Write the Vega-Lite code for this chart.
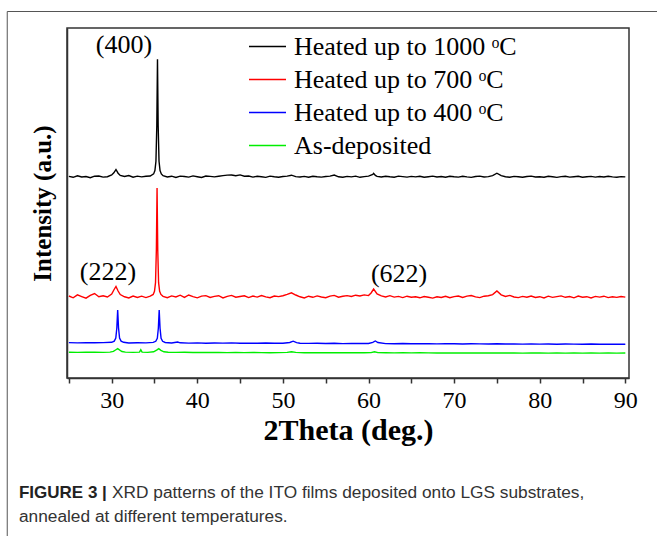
{
"$schema": "https://vega.github.io/schema/vega-lite/v6.json",
"width": 562, "height": 350,
"autosize": {"type": "none"},
"padding": {"left": 67, "top": 28, "right": 28, "bottom": 158},
"background": "white",
"config": {"view": {"stroke": "#333", "strokeWidth": 1.5}, "font": "Liberation Serif"},
"datasets": {
"xrd": [
{"s":"k","t":25,"i":201.6},{"s":"k","t":25.5,"i":200.7},{"s":"k","t":26,"i":202.2},{"s":"k","t":26.5,"i":201},{"s":"k","t":27,"i":201.5},{"s":"k","t":27.5,"i":200.3},{"s":"k","t":28,"i":201.8},{"s":"k","t":28.5,"i":202},{"s":"k","t":29,"i":200.9},{"s":"k","t":29.5,"i":201.3},{"s":"k","t":30,"i":203},{"s":"k","t":30.25,"i":205.2},{"s":"k","t":30.5,"i":208.5},{"s":"k","t":30.75,"i":204.8},{"s":"k","t":31,"i":202.6},{"s":"k","t":31.5,"i":201.5},{"s":"k","t":32,"i":202.4},{"s":"k","t":32.5,"i":200.8},{"s":"k","t":33,"i":201.9},{"s":"k","t":33.5,"i":201.1},{"s":"k","t":34,"i":201.7},{"s":"k","t":34.5,"i":202},{"s":"k","t":34.9,"i":204.1},{"s":"k","t":35.05,"i":207.4},{"s":"k","t":35.17,"i":216.7},{"s":"k","t":35.27,"i":252.3},{"s":"k","t":35.35,"i":318.7},{"s":"k","t":35.43,"i":252.3},{"s":"k","t":35.53,"i":216.7},{"s":"k","t":35.65,"i":207.4},{"s":"k","t":35.8,"i":204.1},{"s":"k","t":36,"i":202.3},{"s":"k","t":36.5,"i":201},{"s":"k","t":37,"i":201.8},{"s":"k","t":37.5,"i":200.6},{"s":"k","t":38,"i":201.9},{"s":"k","t":38.5,"i":201.5},{"s":"k","t":39,"i":200.9},{"s":"k","t":39.5,"i":202.1},{"s":"k","t":40,"i":201.3},{"s":"k","t":40.5,"i":200.5},{"s":"k","t":41,"i":202},{"s":"k","t":41.5,"i":201.6},{"s":"k","t":42,"i":201.1},{"s":"k","t":42.5,"i":201.8},{"s":"k","t":43,"i":202.4},{"s":"k","t":43.5,"i":202.9},{"s":"k","t":44,"i":203},{"s":"k","t":44.5,"i":202.2},{"s":"k","t":45,"i":203.1},{"s":"k","t":45.5,"i":201.8},{"s":"k","t":46,"i":202},{"s":"k","t":46.5,"i":200.9},{"s":"k","t":47,"i":201.7},{"s":"k","t":47.5,"i":201.2},{"s":"k","t":48,"i":200.6},{"s":"k","t":48.5,"i":201.9},{"s":"k","t":49,"i":201.3},{"s":"k","t":49.5,"i":200.8},{"s":"k","t":50,"i":201.5},{"s":"k","t":50.5,"i":201.9},{"s":"k","t":51,"i":202.8},{"s":"k","t":51.5,"i":201.4},{"s":"k","t":52,"i":201},{"s":"k","t":52.5,"i":201.6},{"s":"k","t":53,"i":200.7},{"s":"k","t":53.5,"i":201.8},{"s":"k","t":54,"i":201.2},{"s":"k","t":54.5,"i":200.9},{"s":"k","t":55,"i":201.5},{"s":"k","t":55.5,"i":201.9},{"s":"k","t":56,"i":202.9},{"s":"k","t":56.5,"i":201.2},{"s":"k","t":57,"i":200.8},{"s":"k","t":57.5,"i":201.6},{"s":"k","t":58,"i":201.1},{"s":"k","t":58.5,"i":201.9},{"s":"k","t":59,"i":200.7},{"s":"k","t":59.5,"i":201.4},{"s":"k","t":60,"i":201.9},{"s":"k","t":60.5,"i":203.5},{"s":"k","t":60.6,"i":204.6},{"s":"k","t":60.8,"i":202.6},{"s":"k","t":61,"i":201.6},{"s":"k","t":61.5,"i":201},{"s":"k","t":62,"i":201.7},{"s":"k","t":62.5,"i":201.2},{"s":"k","t":63,"i":200.8},{"s":"k","t":63.5,"i":201.9},{"s":"k","t":64,"i":201.4},{"s":"k","t":64.5,"i":200.9},{"s":"k","t":65,"i":201.6},{"s":"k","t":65.5,"i":201.1},{"s":"k","t":66,"i":201.8},{"s":"k","t":66.5,"i":200.7},{"s":"k","t":67,"i":201.3},{"s":"k","t":67.5,"i":201.9},{"s":"k","t":68,"i":201},{"s":"k","t":68.5,"i":201.5},{"s":"k","t":69,"i":200.8},{"s":"k","t":69.5,"i":201.7},{"s":"k","t":70,"i":201.2},{"s":"k","t":70.5,"i":200.9},{"s":"k","t":71,"i":201.8},{"s":"k","t":71.5,"i":201.1},{"s":"k","t":72,"i":200.6},{"s":"k","t":72.5,"i":201.5},{"s":"k","t":73,"i":201.9},{"s":"k","t":73.5,"i":201},{"s":"k","t":74,"i":201.4},{"s":"k","t":74.5,"i":202.4},{"s":"k","t":75,"i":204.8},{"s":"k","t":75.5,"i":202.3},{"s":"k","t":76,"i":201.3},{"s":"k","t":76.5,"i":200.8},{"s":"k","t":77,"i":201.6},{"s":"k","t":77.5,"i":201.2},{"s":"k","t":78,"i":200.7},{"s":"k","t":78.5,"i":201.5},{"s":"k","t":79,"i":201.9},{"s":"k","t":79.5,"i":201},{"s":"k","t":80,"i":201.3},{"s":"k","t":80.5,"i":200.8},{"s":"k","t":81,"i":201.7},{"s":"k","t":81.5,"i":201.2},{"s":"k","t":82,"i":200.6},{"s":"k","t":82.5,"i":201.4},{"s":"k","t":83,"i":201.8},{"s":"k","t":83.5,"i":200.9},{"s":"k","t":84,"i":201.3},{"s":"k","t":84.5,"i":201.7},{"s":"k","t":85,"i":200.8},{"s":"k","t":85.5,"i":201.2},{"s":"k","t":86,"i":201.6},{"s":"k","t":86.5,"i":200.9},{"s":"k","t":87,"i":201.5},{"s":"k","t":87.5,"i":201},{"s":"k","t":88,"i":201.8},{"s":"k","t":88.5,"i":201.1},{"s":"k","t":89,"i":200.7},{"s":"k","t":89.5,"i":201.4},{"s":"k","t":90,"i":201.1},
{"s":"r","t":25,"i":82},{"s":"r","t":25.5,"i":80.2},{"s":"r","t":26,"i":83.1},{"s":"r","t":26.5,"i":81.4},{"s":"r","t":27,"i":79.8},{"s":"r","t":27.5,"i":82.6},{"s":"r","t":28,"i":84.5},{"s":"r","t":28.5,"i":81.3},{"s":"r","t":29,"i":82.2},{"s":"r","t":29.5,"i":81},{"s":"r","t":30,"i":84},{"s":"r","t":30.25,"i":88},{"s":"r","t":30.5,"i":91.5},{"s":"r","t":30.75,"i":87},{"s":"r","t":31,"i":83.5},{"s":"r","t":31.5,"i":81.2},{"s":"r","t":32,"i":80.1},{"s":"r","t":32.5,"i":82},{"s":"r","t":33,"i":80.6},{"s":"r","t":33.5,"i":81.8},{"s":"r","t":34,"i":80.4},{"s":"r","t":34.5,"i":81.9},{"s":"r","t":34.85,"i":83.6},{"s":"r","t":35,"i":86.7},{"s":"r","t":35.12,"i":95.3},{"s":"r","t":35.22,"i":128.3},{"s":"r","t":35.3,"i":190},{"s":"r","t":35.38,"i":128.3},{"s":"r","t":35.48,"i":95.3},{"s":"r","t":35.6,"i":86.7},{"s":"r","t":35.75,"i":83.6},{"s":"r","t":36,"i":81.7},{"s":"r","t":36.5,"i":80.3},{"s":"r","t":37,"i":82.1},{"s":"r","t":37.5,"i":81},{"s":"r","t":38,"i":82.8},{"s":"r","t":38.5,"i":80.6},{"s":"r","t":39,"i":83},{"s":"r","t":39.5,"i":81.4},{"s":"r","t":40,"i":80.2},{"s":"r","t":40.5,"i":81.9},{"s":"r","t":41,"i":82.4},{"s":"r","t":41.5,"i":80.5},{"s":"r","t":42,"i":81.6},{"s":"r","t":42.5,"i":82.3},{"s":"r","t":43,"i":80.1},{"s":"r","t":43.5,"i":81.7},{"s":"r","t":44,"i":82.6},{"s":"r","t":44.5,"i":80.8},{"s":"r","t":45,"i":81.5},{"s":"r","t":45.5,"i":82.2},{"s":"r","t":46,"i":80.4},{"s":"r","t":46.5,"i":81.9},{"s":"r","t":47,"i":80.9},{"s":"r","t":47.5,"i":82.5},{"s":"r","t":48,"i":81.1},{"s":"r","t":48.5,"i":80.3},{"s":"r","t":49,"i":82},{"s":"r","t":49.5,"i":81.4},{"s":"r","t":50,"i":82.3},{"s":"r","t":50.5,"i":83.6},{"s":"r","t":51,"i":85.2},{"s":"r","t":51.5,"i":83},{"s":"r","t":52,"i":81.2},{"s":"r","t":52.5,"i":80.1},{"s":"r","t":53,"i":81.8},{"s":"r","t":53.5,"i":80.7},{"s":"r","t":54,"i":82.1},{"s":"r","t":54.5,"i":81},{"s":"r","t":55,"i":80.3},{"s":"r","t":55.5,"i":81.9},{"s":"r","t":56,"i":82.6},{"s":"r","t":56.5,"i":80.8},{"s":"r","t":57,"i":81.7},{"s":"r","t":57.5,"i":82.4},{"s":"r","t":58,"i":81.5},{"s":"r","t":58.5,"i":82.8},{"s":"r","t":59,"i":82},{"s":"r","t":59.5,"i":83.1},{"s":"r","t":60,"i":82.4},{"s":"r","t":60.3,"i":85},{"s":"r","t":60.6,"i":89},{"s":"r","t":61,"i":84},{"s":"r","t":61.5,"i":82.1},{"s":"r","t":62,"i":81},{"s":"r","t":62.5,"i":82.3},{"s":"r","t":63,"i":80.9},{"s":"r","t":63.5,"i":81.6},{"s":"r","t":64,"i":80.4},{"s":"r","t":64.5,"i":81.8},{"s":"r","t":65,"i":80.7},{"s":"r","t":65.5,"i":81.3},{"s":"r","t":66,"i":80.2},{"s":"r","t":66.5,"i":81.5},{"s":"r","t":67,"i":80.8},{"s":"r","t":67.5,"i":79.9},{"s":"r","t":68,"i":81.2},{"s":"r","t":68.5,"i":80.5},{"s":"r","t":69,"i":81.7},{"s":"r","t":69.5,"i":80.3},{"s":"r","t":70,"i":81.4},{"s":"r","t":70.5,"i":82},{"s":"r","t":71,"i":80.6},{"s":"r","t":71.5,"i":81.9},{"s":"r","t":72,"i":82.5},{"s":"r","t":72.5,"i":81.1},{"s":"r","t":73,"i":80.4},{"s":"r","t":73.5,"i":81.8},{"s":"r","t":74,"i":82.3},{"s":"r","t":74.5,"i":83.4},{"s":"r","t":75,"i":87},{"s":"r","t":75.5,"i":83.2},{"s":"r","t":76,"i":81.5},{"s":"r","t":76.5,"i":82.6},{"s":"r","t":77,"i":81},{"s":"r","t":77.5,"i":80.4},{"s":"r","t":78,"i":81.6},{"s":"r","t":78.5,"i":80.8},{"s":"r","t":79,"i":82},{"s":"r","t":79.5,"i":80.5},{"s":"r","t":80,"i":81.3},{"s":"r","t":80.5,"i":80.1},{"s":"r","t":81,"i":81.8},{"s":"r","t":81.5,"i":80.6},{"s":"r","t":82,"i":81.4},{"s":"r","t":82.5,"i":82.1},{"s":"r","t":83,"i":80.7},{"s":"r","t":83.5,"i":81.5},{"s":"r","t":84,"i":80.2},{"s":"r","t":84.5,"i":81.9},{"s":"r","t":85,"i":80.8},{"s":"r","t":85.5,"i":81.3},{"s":"r","t":86,"i":80},{"s":"r","t":86.5,"i":81.6},{"s":"r","t":87,"i":80.9},{"s":"r","t":87.5,"i":81.8},{"s":"r","t":88,"i":80.4},{"s":"r","t":88.5,"i":81.2},{"s":"r","t":89,"i":80.6},{"s":"r","t":89.5,"i":81.5},{"s":"r","t":90,"i":80.9},
{"s":"b","t":25,"i":35.4},{"s":"b","t":26,"i":35.1},{"s":"b","t":27,"i":35.3},{"s":"b","t":28,"i":35.2},{"s":"b","t":29,"i":35.4},{"s":"b","t":30,"i":35.7},{"s":"b","t":30.3,"i":36.9},{"s":"b","t":30.48,"i":40},{"s":"b","t":30.6,"i":50},{"s":"b","t":30.7,"i":68},{"s":"b","t":30.8,"i":50},{"s":"b","t":30.92,"i":40},{"s":"b","t":31.1,"i":36.9},{"s":"b","t":31.4,"i":35.7},{"s":"b","t":32,"i":35},{"s":"b","t":33,"i":35.2},{"s":"b","t":34,"i":35.1},{"s":"b","t":34.85,"i":35.6},{"s":"b","t":35.15,"i":36.7},{"s":"b","t":35.33,"i":39.8},{"s":"b","t":35.45,"i":49.8},{"s":"b","t":35.55,"i":68},{"s":"b","t":35.65,"i":49.8},{"s":"b","t":35.77,"i":39.8},{"s":"b","t":35.95,"i":36.7},{"s":"b","t":36.25,"i":35.5},{"s":"b","t":37,"i":35},{"s":"b","t":37.7,"i":36},{"s":"b","t":38,"i":35.2},{"s":"b","t":39,"i":34.9},{"s":"b","t":40,"i":35.1},{"s":"b","t":41,"i":34.8},{"s":"b","t":42,"i":35},{"s":"b","t":43,"i":34.9},{"s":"b","t":44,"i":35.1},{"s":"b","t":45,"i":34.8},{"s":"b","t":46,"i":34.9},{"s":"b","t":47,"i":34.7},{"s":"b","t":48,"i":35},{"s":"b","t":49,"i":34.8},{"s":"b","t":50,"i":34.7},{"s":"b","t":50.8,"i":35.5},{"s":"b","t":51.2,"i":36.8},{"s":"b","t":51.6,"i":35.3},{"s":"b","t":52,"i":34.7},{"s":"b","t":53,"i":34.6},{"s":"b","t":54,"i":34.8},{"s":"b","t":55,"i":34.5},{"s":"b","t":56,"i":34.7},{"s":"b","t":57,"i":34.4},{"s":"b","t":58,"i":34.6},{"s":"b","t":59,"i":34.5},{"s":"b","t":60,"i":34.5},{"s":"b","t":60.5,"i":35.6},{"s":"b","t":60.8,"i":37},{"s":"b","t":61.1,"i":35.5},{"s":"b","t":62,"i":34.4},{"s":"b","t":63,"i":34.3},{"s":"b","t":64,"i":34.5},{"s":"b","t":65,"i":34.2},{"s":"b","t":66,"i":34.4},{"s":"b","t":67,"i":34.3},{"s":"b","t":68,"i":34.1},{"s":"b","t":69,"i":34.3},{"s":"b","t":70,"i":34.2},{"s":"b","t":71,"i":34},{"s":"b","t":72,"i":34.2},{"s":"b","t":73,"i":34.1},{"s":"b","t":74,"i":34},{"s":"b","t":75,"i":34.3},{"s":"b","t":76,"i":34},{"s":"b","t":77,"i":34.1},{"s":"b","t":78,"i":33.9},{"s":"b","t":79,"i":34.1},{"s":"b","t":80,"i":33.9},{"s":"b","t":81,"i":34},{"s":"b","t":82,"i":33.8},{"s":"b","t":83,"i":34},{"s":"b","t":84,"i":33.9},{"s":"b","t":85,"i":33.8},{"s":"b","t":86,"i":34},{"s":"b","t":87,"i":33.8},{"s":"b","t":88,"i":33.9},{"s":"b","t":89,"i":33.7},{"s":"b","t":90,"i":33.8},
{"s":"g","t":25,"i":25.8},{"s":"g","t":26,"i":25.6},{"s":"g","t":27,"i":25.7},{"s":"g","t":28,"i":25.8},{"s":"g","t":29,"i":25.6},{"s":"g","t":29.8,"i":25.9},{"s":"g","t":30.2,"i":26.6},{"s":"g","t":30.45,"i":28},{"s":"g","t":30.7,"i":29.4},{"s":"g","t":30.95,"i":27.9},{"s":"g","t":31.2,"i":26.5},{"s":"g","t":31.6,"i":25.9},{"s":"g","t":32.5,"i":25.6},{"s":"g","t":33.25,"i":25.9},{"s":"g","t":33.4,"i":28.2},{"s":"g","t":33.55,"i":25.9},{"s":"g","t":34.2,"i":25.6},{"s":"g","t":34.9,"i":26.2},{"s":"g","t":35.25,"i":27.9},{"s":"g","t":35.5,"i":29.4},{"s":"g","t":35.75,"i":27.7},{"s":"g","t":36.1,"i":26.2},{"s":"g","t":36.6,"i":25.7},{"s":"g","t":37.5,"i":25.6},{"s":"g","t":38.5,"i":25.7},{"s":"g","t":39.5,"i":25.5},{"s":"g","t":40.5,"i":25.6},{"s":"g","t":41.5,"i":25.5},{"s":"g","t":42.5,"i":25.6},{"s":"g","t":43.5,"i":25.4},{"s":"g","t":44.5,"i":25.5},{"s":"g","t":45.5,"i":25.4},{"s":"g","t":46.5,"i":25.5},{"s":"g","t":47.5,"i":25.4},{"s":"g","t":48.5,"i":25.3},{"s":"g","t":49.5,"i":25.4},{"s":"g","t":50.5,"i":25.6},{"s":"g","t":51,"i":26.3},{"s":"g","t":51.5,"i":25.6},{"s":"g","t":52.5,"i":25.3},{"s":"g","t":53.5,"i":25.4},{"s":"g","t":54.5,"i":25.3},{"s":"g","t":55.5,"i":25.2},{"s":"g","t":56.5,"i":25.3},{"s":"g","t":57.5,"i":25.2},{"s":"g","t":58.5,"i":25.3},{"s":"g","t":59.5,"i":25.2},{"s":"g","t":60.3,"i":25.4},{"s":"g","t":60.7,"i":26.3},{"s":"g","t":61.1,"i":25.4},{"s":"g","t":62,"i":25.2},{"s":"g","t":63,"i":25.1},{"s":"g","t":64,"i":25.2},{"s":"g","t":65,"i":25.1},{"s":"g","t":66,"i":25.2},{"s":"g","t":67,"i":25.1},{"s":"g","t":68,"i":25},{"s":"g","t":69,"i":25.1},{"s":"g","t":70,"i":25},{"s":"g","t":71,"i":25.1},{"s":"g","t":72,"i":25},{"s":"g","t":73,"i":25.1},{"s":"g","t":74,"i":25},{"s":"g","t":75,"i":25.1},{"s":"g","t":76,"i":25},{"s":"g","t":77,"i":25},{"s":"g","t":78,"i":24.9},{"s":"g","t":79,"i":25},{"s":"g","t":80,"i":25},{"s":"g","t":81,"i":24.9},{"s":"g","t":82,"i":25},{"s":"g","t":83,"i":24.9},{"s":"g","t":84,"i":25},{"s":"g","t":85,"i":24.9},{"s":"g","t":86,"i":25},{"s":"g","t":87,"i":24.9},{"s":"g","t":88,"i":25},{"s":"g","t":89,"i":24.9},{"s":"g","t":90,"i":25}
],
"peaks": [
{"a":"(400)","t":31.44,"i":333},
{"a":"(222)","t":29.57,"i":106},
{"a":"(622)","t":63.57,"i":104}
]
},
"layer": [
{
"data": {"values": [{}]},
"mark": {"type": "rect", "filled": false, "stroke": "#555", "strokeWidth": 1, "clip": false},
"encoding": {
"x": {"datum": 17.8, "type": "quantitative"},
"x2": {"datum": 100},
"y": {"datum": 366.5, "type": "quantitative"},
"y2": {"datum": -250}
}
},
{
"data": {"name": "xrd"},
"mark": {"type": "line", "strokeWidth": 1.4, "clip": true, "interpolate": "linear"},
"encoding": {
"x": {"field": "t", "type": "quantitative",
"scale": {"domain": [24.78, 90.43], "nice": false, "zero": false},
"axis": {"values": [25,30,35,40,45,50,55,60,65,70,75,80,85,90],
"labelExpr": "datum.value % 10 === 0 ? datum.label : ''",
"tickSize": 5, "tickWidth": 1.5, "tickColor": "#333",
"domainColor": "#333", "domainWidth": 1.5, "grid": false,
"labelFont": "Liberation Serif", "labelFontSize": 24, "labelColor": "#000", "labelPadding": 5,
"labelFlush": false, "labelOverlap": false,
"title": "2Theta (deg.)", "titleFont": "Liberation Serif", "titleFontSize": 30,
"titleFontWeight": "bold", "titleColor": "#000", "titlePadding": 3}},
"y": {"field": "i", "type": "quantitative",
"scale": {"domain": [0, 350], "nice": false, "zero": false},
"axis": {"ticks": false, "labels": false, "domain": true, "domainColor": "#333", "domainWidth": 1.5,
"grid": false, "title": "Intensity (a.u.)", "titleFont": "Liberation Serif", "titleFontSize": 25,
"titleFontWeight": "bold", "titleColor": "#000", "titlePadding": 12}},
"color": {"field": "s", "type": "nominal",
"scale": {"domain": ["k","r","b","g"], "range": ["#000000","#ff0000","#0000ff","#00ee00"]},
"legend": {"orient": "none", "legendX": 181, "legendY": -1, "title": null,
"symbolType": "stroke", "symbolSize": 1369, "symbolStrokeWidth": 1.5,
"labelFont": "Liberation Serif", "labelFontSize": 26, "labelColor": "#000", "labelOffset": 7,
"rowPadding": 0, "labelLimit": 0,
"labelExpr": "datum.value == 'k' ? 'Heated up to 1000 ᵒC' : datum.value == 'r' ? 'Heated up to 700 ᵒC' : datum.value == 'b' ? 'Heated up to 400 ᵒC' : 'As-deposited'"}}
}
},
{
"data": {"name": "peaks"},
"mark": {"type": "text", "font": "Liberation Serif", "fontSize": 26, "align": "center", "baseline": "middle", "color": "#000"},
"encoding": {
"x": {"field": "t", "type": "quantitative"},
"y": {"field": "i", "type": "quantitative"},
"text": {"field": "a"}
}
},
{
"data": {"values": [{}]},
"mark": {"type": "text", "font": "Liberation Sans", "fontSize": 17, "fontWeight": "bold", "align": "left", "baseline": "alphabetic", "color": "#222"},
"encoding": {
"x": {"datum": 19.17, "type": "quantitative"},
"y": {"datum": -120, "type": "quantitative"},
"text": {"value": "FIGURE 3 |"}
}
},
{
"data": {"values": [{}]},
"mark": {"type": "text", "font": "Liberation Sans", "fontSize": 17.3, "align": "left", "baseline": "alphabetic", "color": "#333"},
"encoding": {
"x": {"datum": 30.04, "type": "quantitative"},
"y": {"datum": -120, "type": "quantitative"},
"text": {"value": "XRD patterns of the ITO films deposited onto LGS substrates,"}
}
},
{
"data": {"values": [{}]},
"mark": {"type": "text", "font": "Liberation Sans", "fontSize": 17.3, "align": "left", "baseline": "alphabetic", "color": "#333"},
"encoding": {
"x": {"datum": 19.17, "type": "quantitative"},
"y": {"datum": -144, "type": "quantitative"},
"text": {"value": "annealed at different temperatures."}
}
}
]
}
